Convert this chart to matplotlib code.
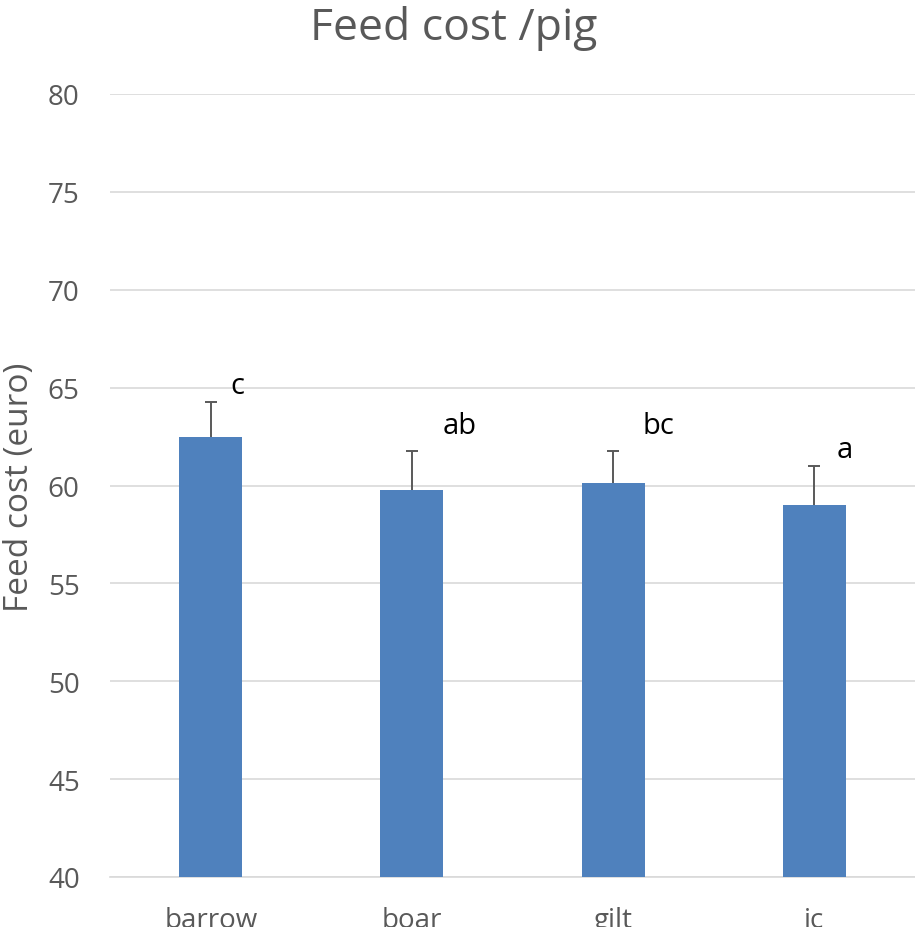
import matplotlib
matplotlib.use("Agg")
import matplotlib.pyplot as plt
import numpy as np

plt.rcParams['font.family'] = ['Open Sans', 'DejaVu Sans']

# Feed cost per pig by sex category
categories = ["barrow", "boar", "gilt", "ic"]
feed_cost = [62.5, 59.77, 60.11, 59.01]
feed_cost_se = [1.78, 2.01, 1.67, 2.0]
sig_letters = ["c", "ab", "bc", "a"]

# letter offsets (points) from the top of each error bar
letter_dx = [14, 22, 21, 16.5]
letter_dy = [12, 18, 18, 12]

bar_color = "#4F81BD"
grid_color = "#D9D9D9"
text_gray = "#595959"

fig = plt.figure(figsize=(9.15, 9.28), dpi=100)
ax = fig.add_axes([110.3 / 915, 1 - 878 / 928, (914.7 - 110.3) / 915, (878 - 95) / 928])

x = np.arange(len(categories))
ax.bar(x, feed_cost, width=0.313, color=bar_color, zorder=3)

# upper-only error bars
eb = ax.errorbar(x, feed_cost, yerr=[np.zeros(len(feed_cost)), feed_cost_se], fmt="none",
                 ecolor=text_gray, elinewidth=1.4, capsize=4.2, capthick=1.4, zorder=4)
for cap in eb.lines[1]:
    if np.allclose(cap.get_ydata(), feed_cost):
        cap.set_visible(False)

for xi, v, e, lab, dx, dy in zip(x, feed_cost, feed_cost_se, sig_letters, letter_dx, letter_dy):
    ax.annotate(lab, xy=(xi, v + e), xytext=(dx, dy), textcoords="offset points",
                ha="left", va="center", fontsize=21, color="black", zorder=5)

ax.set_xlim(-0.5, len(categories) - 0.5)
ax.set_ylim(40, 80)
ax.set_yticks(np.arange(40, 81, 5))
ax.set_xticks(x)
ax.set_xticklabels(categories)

ax.yaxis.grid(True, color=grid_color, linewidth=1.2, zorder=0)
ax.set_axisbelow(True)
for s in ["top", "right", "left"]:
    ax.spines[s].set_visible(False)
ax.spines["bottom"].set_color(grid_color)
ax.spines["bottom"].set_linewidth(1.2)

ax.tick_params(axis="y", length=0, pad=22, labelsize=20, labelcolor=text_gray)
ax.tick_params(axis="x", length=0, pad=21, labelsize=20, labelcolor=text_gray)

fig.text(20 / 915, 1 - 487 / 928, "Feed cost (euro)", rotation=90, ha="center", va="center",
         fontsize=24, color=text_gray)
fig.text(453.5 / 915, 1 - 40 / 928, "Feed cost /pig", ha="center", va="baseline",
         fontsize=32, color=text_gray)

fig.savefig("out.png", dpi=100)
